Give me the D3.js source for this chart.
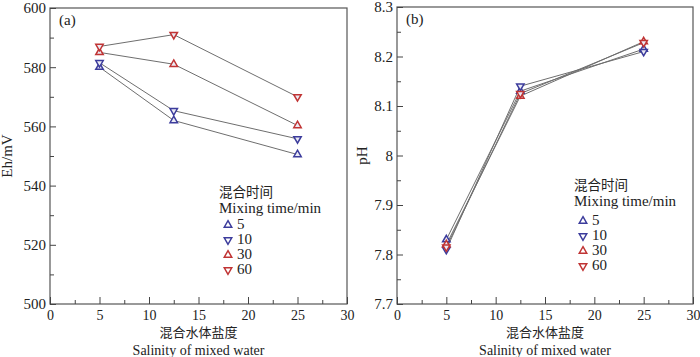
<!DOCTYPE html>
<html lang="zh">
<head>
<meta charset="UTF-8">
<title>Eh and pH vs salinity</title>
<style>
  body { margin: 0; background: #fff; }
</style>
</head>
<body>
<script src="https://d3js.org/d3.v7.min.js"></script>
<div id="chart"></div>
<script>
  // data
  const salinity = [5, 12.5, 25]
  const times = ['5', '10', '30', '60']
  const ehValues = [
    [580, 562, 550.5],
    [581.5, 565.3, 555.8],
    [585, 581, 560.3],
    [587, 591, 570]
  ]
  const phValues = [
    [7.83, 8.13, 8.215],
    [7.81, 8.14, 8.21],
    [7.82, 8.12, 8.23],
    [7.815, 8.125, 8.228]
  ]
  const xTicks = [0, 5, 10, 15, 20, 25, 30]
  const ehTicks = [500, 520, 540, 560, 580, 600]
  const phTicks = [7.7, 7.8, 7.9, 8, 8.1, 8.2, 8.3]

  const colours = ['#3c3c9c', '#3c3c9c', '#c03434', '#c03434']
  const pointsUp = [true, false, true, false]

  const SERIF = '"Liberation Serif", "DejaVu Serif", serif'
  const CJK = '"Noto Sans CJK SC", sans-serif'

  const svg = d3.select('#chart')
    .append('svg')
    .attr('width', 700)
    .attr('height', 357)

  const tri = d3.symbol().type(d3.symbolTriangle).size(24)

  function panel(opts) {
    const x = d3.scaleLinear().domain([0, 30]).range([opts.x0, opts.x1])
    const y = d3.scaleLinear().domain(opts.yDomain).range([opts.y1, opts.y0])
    const g = svg.append('g')

    // frame
    g.append('rect')
      .attr('x', opts.x0).attr('y', opts.y0)
      .attr('width', opts.x1 - opts.x0).attr('height', opts.y1 - opts.y0)
      .attr('fill', 'none').attr('stroke', '#555').attr('stroke-width', 1.2)

    // x axis, ticks pointing inward
    const xAxis = g.append('g')
      .attr('transform', `translate(0,${opts.y1})`)
      .call(d3.axisBottom(x).tickValues(xTicks).tickSize(-7).tickPadding(6).tickFormat(d3.format('d')))
    xAxis.select('.domain').remove()
    xAxis.selectAll('line').attr('stroke', '#444')
    xAxis.selectAll('text').style('font-family', SERIF).style('font-size', '14px').attr('fill', '#222')
    g.append('g')
      .attr('transform', `translate(0,${opts.y1})`)
      .call(d3.axisBottom(x).tickValues(d3.range(2.5, 30, 5)).tickSize(-4).tickFormat(''))
      .call(s => s.select('.domain').remove())
      .selectAll('line').attr('stroke', '#444')

    // y axis
    const yAxis = g.append('g')
      .attr('transform', `translate(${opts.x0},0)`)
      .call(d3.axisLeft(y).tickValues(opts.yTicks).tickSize(-6).tickPadding(4).tickFormat(opts.fmt))
    yAxis.select('.domain').remove()
    yAxis.selectAll('line').attr('stroke', '#444')
    yAxis.selectAll('text').style('font-family', SERIF).style('font-size', '15px').attr('fill', '#222')
    g.append('g')
      .attr('transform', `translate(${opts.x0},0)`)
      .call(d3.axisLeft(y).tickValues(opts.minor).tickSize(-4).tickFormat(''))
      .call(s => s.select('.domain').remove())
      .selectAll('line').attr('stroke', '#444')

    // series
    const line = d3.line().x((d, i) => x(salinity[i])).y(d => y(d))
    opts.values.forEach(vals => {
      g.append('path')
        .attr('d', line(vals))
        .attr('fill', 'none')
        .attr('stroke', '#6e6e6e')
        .attr('stroke-width', 1)
    })
    opts.values.forEach((vals, k) => {
      g.selectAll(null)
        .data(vals)
        .join('path')
        .attr('d', tri)
        .attr('transform', (d, i) => `translate(${x(salinity[i])},${y(d)}) rotate(${pointsUp[k] ? 0 : 180})`)
        .attr('fill', '#eaeaf4')
        .attr('stroke', colours[k])
        .attr('stroke-width', 1.5)
    })

    // panel label
    g.append('text').attr('x', opts.x0 + 9).attr('y', opts.y0 + 17)
      .style('font-family', SERIF).style('font-size', '15px').attr('fill', '#222').text(opts.tag)

    // axis titles
    const cx = (opts.x0 + opts.x1) / 2
    g.append('text').attr('x', cx).attr('y', 337)
      .attr('text-anchor', 'middle').style('font-family', CJK).style('font-size', '13px').attr('fill', '#222')
      .text('混合水体盐度')
    g.append('text').attr('x', cx).attr('y', 355)
      .attr('text-anchor', 'middle').style('font-family', SERIF).style('font-size', '14px').attr('fill', '#222')
      .text('Salinity of mixed water')
    g.append('text')
      .attr('transform', `translate(${opts.x0 - opts.labelOff},${(opts.y0 + opts.y1) / 2}) rotate(-90)`)
      .attr('text-anchor', 'middle').style('font-family', SERIF).style('font-size', '15px').attr('fill', '#222')
      .text(opts.yLabel)

    // legend
    const lg = g.append('g').attr('transform', `translate(${opts.lx},${opts.ly})`)
    lg.append('text').attr('x', -5).attr('y', 0)
      .style('font-family', CJK).style('font-size', '13.5px').attr('fill', '#222').text('混合时间')
    lg.append('text').attr('x', -5).attr('y', 16)
      .style('font-family', SERIF).style('font-size', '15px').attr('fill', '#222').text('Mixing time/min')
    times.forEach((t, k) => {
      const yy = opts.itemStart + k * 15
      lg.append('path')
        .attr('d', tri)
        .attr('transform', `translate(4,${yy - 4}) rotate(${pointsUp[k] ? 0 : 180})`)
        .attr('fill', 'none')
        .attr('stroke', colours[k])
        .attr('stroke-width', 1.5)
      lg.append('text').attr('x', 13).attr('y', yy)
        .style('font-family', SERIF).style('font-size', '15px').attr('fill', '#222').text(t)
    })
  }

  panel({
    x0: 50, x1: 347, y0: 8, y1: 304,
    yDomain: [500, 600], yTicks: ehTicks, minor: d3.range(510, 600, 20),
    fmt: d3.format('d'), values: ehValues, tag: '(a)', yLabel: 'Eh/mV', labelOff: 38,
    lx: 224, ly: 197, itemStart: 32
  })

  panel({
    x0: 397, x1: 693, y0: 7, y1: 304,
    yDomain: [7.7, 8.3], yTicks: phTicks, minor: d3.range(7.75, 8.3, 0.1),
    fmt: d => (d === 8 ? '8' : d3.format('.1f')(d)), values: phValues, tag: '(b)', yLabel: 'pH', labelOff: 30,
    lx: 579, ly: 190, itemStart: 35
  })
</script>
</body>
</html>
